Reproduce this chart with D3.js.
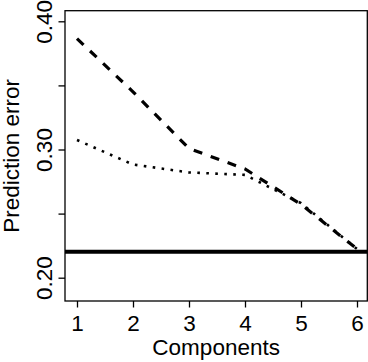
<!DOCTYPE html>
<html>
<head>
<meta charset="utf-8">
<script src="https://cdn.jsdelivr.net/npm/d3@7"></script>
<style>
  html, body { margin: 0; padding: 0; background: #fff; }
  svg { display: block; }
  text { font-family: "Liberation Sans", Arial, Helvetica, sans-serif; fill: #000; }
</style>
</head>
<body>
<svg id="chart" width="368" height="362"></svg>
<script>
// ---- data ----
const components = [1, 2, 3, 4, 5, 6];
const dashedSeries = [0.3865, 0.3450, 0.3008, 0.2848, 0.2572, 0.2224];
const dottedSeries = [0.3074, 0.2883, 0.2821, 0.2802, 0.2582, 0.2224];
const referenceLevel = 0.2202;
const yTickValues = [0.20, 0.25, 0.30, 0.35, 0.40];
const yTickLabels = ["0.20", "", "0.30", "", "0.40"];
const xTickValues = [1, 2, 3, 4, 5, 6];
const xLabel = "Components";
const yLabel = "Prediction error";

// ---- layout ----
const svg = d3.select("#chart");
const box = { left: 65, right: 367.3, top: 10.7, bottom: 301 };
const fontSize = 22.5;

const x = d3.scaleLinear().domain([1, 6]).range([77, 357]);
const y = d3.scaleLinear().domain([0.20, 0.40]).range([277.7, 21.3]);

// frame
svg.append("rect")
  .attr("x", box.left).attr("y", box.top)
  .attr("width", box.right - box.left).attr("height", box.bottom - box.top)
  .attr("fill", "none").attr("stroke", "#000").attr("stroke-width", 1.3);

// y axis
const yAxis = d3.axisLeft(y)
  .tickValues(yTickValues)
  .tickSize(6.5)
  .tickFormat((d, i) => yTickLabels[i]);
const gy = svg.append("g").attr("transform", `translate(${box.left},0)`).call(yAxis);
gy.select(".domain").remove();
gy.selectAll(".tick line").attr("stroke", "#000").attr("stroke-width", 1.3);
gy.selectAll(".tick text")
  .attr("x", null).attr("dy", null)
  .attr("transform", `translate(${52 - box.left},0) rotate(-90)`)
  .attr("text-anchor", "middle")
  .style("font-size", fontSize + "px")
  .style("font-family", "Liberation Sans, Arial, sans-serif")
  .attr("fill", "#000");

// x axis
const xAxis = d3.axisBottom(x)
  .tickValues(xTickValues)
  .tickSize(6.5)
  .tickFormat(d3.format("d"));
const gx = svg.append("g").attr("transform", `translate(0,${box.bottom})`).call(xAxis);
gx.select(".domain").remove();
gx.selectAll(".tick line").attr("stroke", "#000").attr("stroke-width", 1.3);
gx.selectAll(".tick text")
  .attr("y", 331 - box.bottom).attr("dy", null)
  .attr("text-anchor", "middle")
  .style("font-size", fontSize + "px")
  .style("font-family", "Liberation Sans, Arial, sans-serif")
  .attr("fill", "#000");

// axis titles
svg.append("text")
  .attr("x", (box.left + box.right) / 2).attr("y", 355)
  .attr("text-anchor", "middle")
  .style("font-size", fontSize + "px")
  .text(xLabel);
svg.append("text")
  .attr("transform", `translate(18.5,${(box.top + box.bottom) / 2}) rotate(-90)`)
  .attr("text-anchor", "middle")
  .style("font-size", fontSize + "px")
  .text(yLabel);

// lines
const line = d3.line().x((d, i) => x(components[i])).y(d => y(d));

svg.append("path")
  .datum(dashedSeries)
  .attr("d", line)
  .attr("fill", "none").attr("stroke", "#000")
  .attr("stroke-width", 3.2)
  .attr("stroke-dasharray", "9,9");

svg.append("path")
  .datum(dottedSeries)
  .attr("d", line)
  .attr("fill", "none").attr("stroke", "#000")
  .attr("stroke-width", 2.6)
  .attr("stroke-dasharray", "2.6,6.4");

// reference horizontal line
svg.append("line")
  .attr("x1", box.left).attr("x2", box.right)
  .attr("y1", y(referenceLevel)).attr("y2", y(referenceLevel))
  .attr("stroke", "#000").attr("stroke-width", 4);
</script>
</body>
</html>
